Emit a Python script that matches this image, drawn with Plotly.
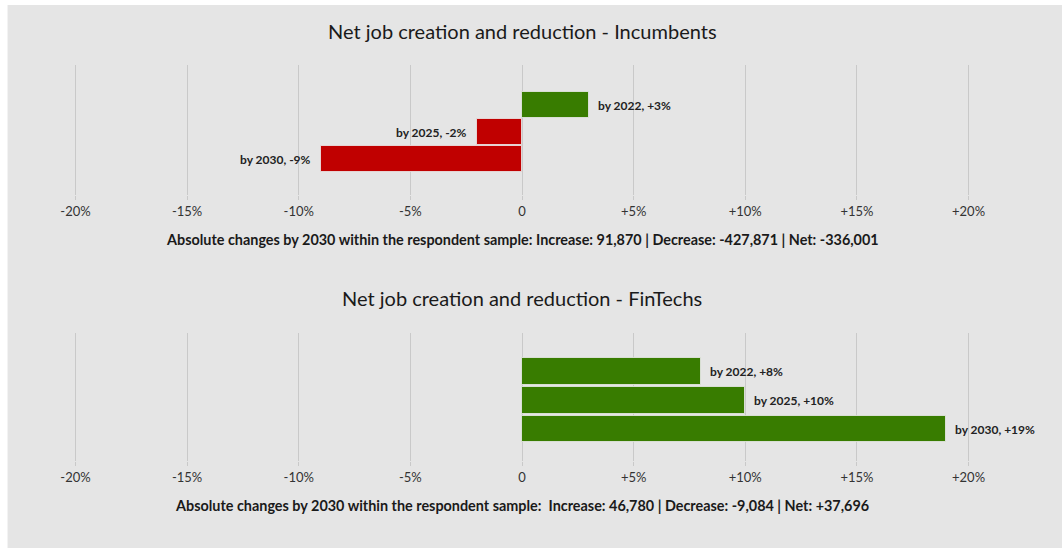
import plotly.graph_objects as go

# --- data -------------------------------------------------------------
periods = ["by 2022", "by 2025", "by 2030"]
incumbents_pct = [3, -2, -9]
fintechs_pct = [8, 10, 19]

tick_values = [-20, -15, -10, -5, 0, 5, 10, 15, 20]
tick_labels = ["-20%", "-15%", "-10%", "-5%", "0", "+5%", "+10%", "+15%", "+20%"]

incumbents_title = "Net job creation and reduction - Incumbents"
fintechs_title = "Net job creation and reduction - FinTechs"
incumbents_note = ("Absolute changes by 2030 within the respondent sample: "
                   "Increase: 91,870 | Decrease: -427,871 | Net: -336,001")
fintechs_note = ("Absolute changes by 2030 within the respondent sample:  "
                 "Increase: 46,780 | Decrease: -9,084 | Net: +37,696")

# --- styling ----------------------------------------------------------
W, H = 1062, 548
GREEN = "#387c00"
RED = "#c00000"
BG = "#e5e5e5"
GRID = "#c9c9c9"
FONT = "Lato, 'Open Sans', sans-serif"

# x axis: -20% sits at pixel 75, +20% at pixel 969, with a little padding
X_PAD = 0.2
PX_PER_UNIT = (969 - 75) / 40
LEFT = 75 - X_PAD * PX_PER_UNIT
RIGHT = 969 + X_PAD * PX_PER_UNIT
PLOT_W = RIGHT - LEFT


def py(pixel_y):
    """Convert a pixel row into a paper y fraction."""
    return (H - pixel_y) / H


def px(pixel_x):
    """Convert a pixel column into a paper x fraction."""
    return (pixel_x - LEFT) / PLOT_W


def bar_colors(values):
    return [GREEN if v >= 0 else RED for v in values]


def pct_label(v):
    return f"+{v}%" if v > 0 else f"{v}%"


fig = go.Figure()

panels = [
    dict(vals=incumbents_pct, xa="x", ya="y", width=0.96,
         yrange=[3.33, -1.48], dom=[py(195), py(65)]),
    dict(vals=fintechs_pct, xa="x2", ya="y2", width=0.9,
         yrange=[3.09, -1.33], dom=[py(461), py(333)]),
]

annotations = []
for i, p in enumerate(panels):
    ypos = list(range(len(periods)))
    fig.add_trace(go.Bar(
        x=p["vals"], y=ypos, orientation="h", width=p["width"],
        marker=dict(color=bar_colors(p["vals"]),
                    line=dict(color="rgba(235,235,235,0.8)", width=1)),
        xaxis=p["xa"], yaxis=p["ya"], hoverinfo="skip", showlegend=False,
    ))
    for yy, v, per in zip(ypos, p["vals"], periods):
        annotations.append(dict(
            x=v, y=yy, xref=p["xa"], yref=p["ya"],
            text=f"{per}, {pct_label(v)}", showarrow=False,
            xanchor="left" if v >= 0 else "right", yanchor="middle",
            xshift=7 if v >= 0 else -8,
            font=dict(family=FONT, size=12, color="#222", weight=700),
        ))

    axis_x = dict(range=[-20 - X_PAD, 20 + X_PAD], tickvals=tick_values,
                  ticktext=tick_labels,
                  showgrid=True, gridcolor=GRID, gridwidth=1, zeroline=False,
                  ticks="outside", ticklen=4, tickcolor=GRID, showline=False,
                  tickfont=dict(family=FONT, size=13, color="#333"),
                  anchor=p["ya"], fixedrange=True)
    axis_y = dict(range=p["yrange"], domain=p["dom"], visible=False,
                  anchor=p["xa"], fixedrange=True)
    suffix = "" if i == 0 else "2"
    fig.layout["xaxis" + suffix] = axis_x
    fig.layout["yaxis" + suffix] = axis_y

# titles and footnotes
for text, y, size, weight in [
    (incumbents_title, 31, 20, 400),
    (fintechs_title, 298, 20, 400),
    (incumbents_note, 239, 14.4, 700),
    (fintechs_note, 505, 14.4, 700),
]:
    annotations.append(dict(
        x=px(522), y=py(y), xref="paper", yref="paper", text=text,
        showarrow=False, xanchor="center", yanchor="middle",
        font=dict(family=FONT, size=size, color="#1a1a1a", weight=weight),
    ))

fig.update_layout(
    width=W, height=H,
    margin=dict(l=LEFT, r=W - RIGHT, t=0, b=0),
    paper_bgcolor="white",
    plot_bgcolor="rgba(0,0,0,0)",
    annotations=annotations,
    bargap=0,
    shapes=[dict(
        type="rect", xref="paper", yref="paper", layer="below",
        x0=px(7), x1=px(W + 10), y0=-0.02, y1=py(5),
        fillcolor=BG, line=dict(width=0),
    )],
)

fig.write_html("out.html", config={"displayModeBar": False})
